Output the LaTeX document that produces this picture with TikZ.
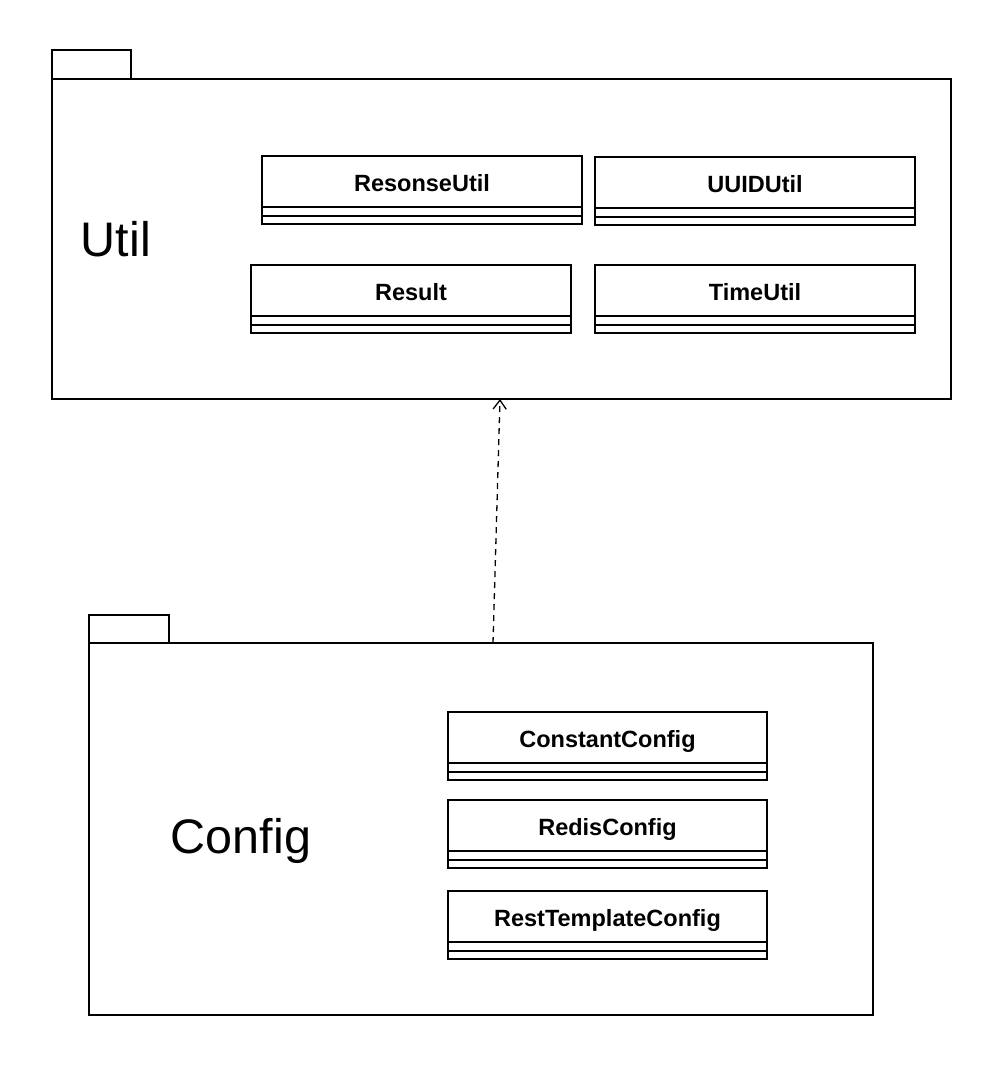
\documentclass[tikz,border=0pt]{standalone}
\usepackage{fontspec}
\setmainfont{Liberation Sans}
\usetikzlibrary{arrows.meta,calc}
\begin{document}
\begin{tikzpicture}[x=1pt,y=-1pt,
  outline/.style={draw=black,line width=1.6pt,fill=white,outer sep=0pt},
  pkgbody/.style={outline,anchor=north west,inner sep=0pt},
  clshead/.style={outline,anchor=north west,inner sep=0pt,minimum height=51pt,
     text height=20pt,text depth=0pt,
     font=\fontsize{23.5}{27}\selectfont\bfseries},
  pkgname/.style={font=\fontsize{48.5}{54}\selectfont},
  dep/.style={line width=1.3pt,dash pattern=on 6pt off 5pt,-{Straight Barb[length=9pt,width=13pt,line width=1.3pt]}}
]
\useasboundingbox (0,0) rectangle (1002,1066);

% ---------- Util package ----------
\node[pkgbody,minimum width=79pt,minimum height=29pt] (utiltab) at (52,50) {};
\node[pkgbody,minimum width=899pt,minimum height=320pt] (util) at (52,79) {};
\node[pkgname] (utilname) at (116,239) {Util};

\newcommand{\umlclass}[5]{% name, x, y, width, text
  \node[clshead,minimum width=#4pt] (#1) at (#2,#3) {#5};
  \draw[line width=1.6pt] (#1.south west) rectangle ++(#4,9);
  \draw[line width=1.6pt] ($(#1.south west)+(0,9)$) rectangle ++(#4,8);
}

\umlclass{resonse}{262}{156}{320}{ResonseUtil}
\umlclass{uuid}{595}{157}{320}{UUIDUtil}
\umlclass{result}{251}{265}{320}{Result}
\umlclass{time}{595}{265}{320}{TimeUtil}

% ---------- Config package ----------
\node[pkgbody,minimum width=80pt,minimum height=28pt] (cfgtab) at (89,615) {};
\node[pkgbody,minimum width=784pt,minimum height=372pt] (cfg) at (89,643) {};
\node[pkgname] (cfgname) at (241,841) {Config};

\umlclass{constant}{448}{712}{319}{ConstantConfig}
\umlclass{redis}{448}{800}{319}{RedisConfig}
\umlclass{rest}{448}{891}{319}{RestTemplateConfig}

% ---------- dependency ----------
\path (cfg.north west) ++(404,0) coordinate (depstart);
\path (util.south west) ++(448,0) coordinate (depend);
\draw[dep] (depstart) -- (depend);
\end{tikzpicture}
\end{document}
